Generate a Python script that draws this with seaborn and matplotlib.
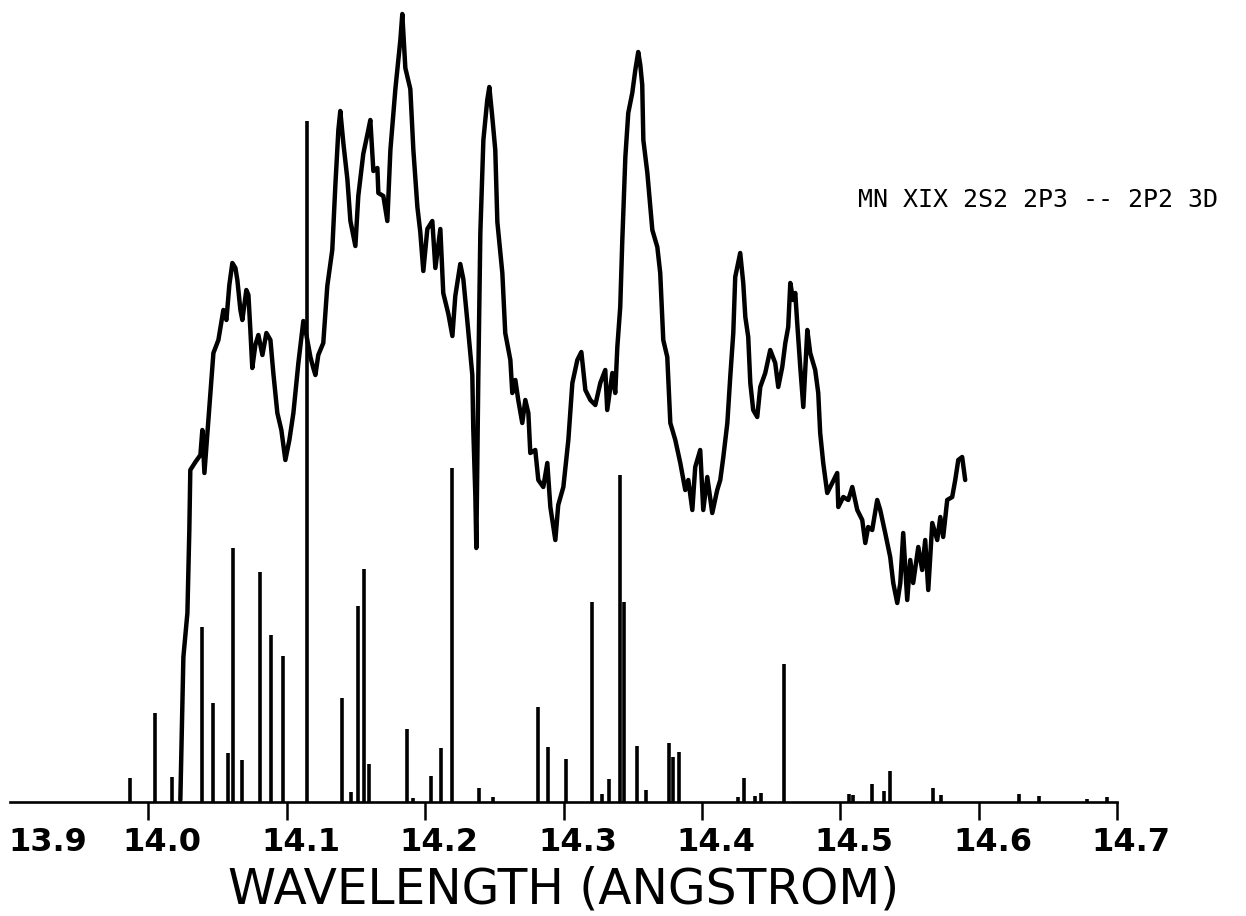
import matplotlib
matplotlib.use("Agg")
import matplotlib.pyplot as plt
import matplotlib.transforms as mtransforms
import seaborn as sns
import pandas as pd

# ---- measured spectrum (wavelength in Angstrom, intensity arbitrary units) ----
spec_wl = [14.0231, 14.0253, 14.0282, 14.0296, 14.0303, 14.0340, 14.0376, 14.0390, 14.0405, 14.0434,
           14.0470, 14.0506, 14.0542, 14.0564, 14.0585, 14.0607, 14.0629, 14.0643, 14.0665, 14.0679,
           14.0708, 14.0723, 14.0737, 14.0751, 14.0773, 14.0795, 14.0824, 14.0853, 14.0882, 14.0903,
           14.0932, 14.0961, 14.0990, 14.1019, 14.1048, 14.1084, 14.1120, 14.1142, 14.1171, 14.1192,
           14.1207, 14.1228, 14.1264, 14.1293, 14.1329, 14.1351, 14.1373, 14.1387, 14.1409, 14.1438,
           14.1460, 14.1496, 14.1517, 14.1553, 14.1582, 14.1604, 14.1626, 14.1655, 14.1662, 14.1698,
           14.1727, 14.1749, 14.1785, 14.1806, 14.1821, 14.1835, 14.1857, 14.1893, 14.1915, 14.1944,
           14.1965, 14.1987, 14.2016, 14.2052, 14.2074, 14.2110, 14.2131, 14.2168, 14.2197, 14.2218,
           14.2254, 14.2276, 14.2305, 14.2341, 14.2348, 14.2363, 14.2370, 14.2384, 14.2399, 14.2421,
           14.2449, 14.2464, 14.2486, 14.2507, 14.2522, 14.2558, 14.2579, 14.2616, 14.2630, 14.2652,
           14.2673, 14.2702, 14.2724, 14.2746, 14.2760, 14.2796, 14.2818, 14.2854, 14.2883, 14.2905,
           14.2941, 14.2962, 14.2999, 14.3035, 14.3064, 14.3100, 14.3129, 14.3158, 14.3194, 14.3230,
           14.3266, 14.3302, 14.3316, 14.3353, 14.3374, 14.3389, 14.3410, 14.3425, 14.3447, 14.3468,
           14.3497, 14.3519, 14.3540, 14.3555, 14.3569, 14.3577, 14.3606, 14.3627, 14.3642, 14.3678,
           14.3699, 14.3721, 14.3750, 14.3772, 14.3808, 14.3844, 14.3880, 14.3902, 14.3931, 14.3952,
           14.3988, 14.4010, 14.4039, 14.4075, 14.4111, 14.4133, 14.4155, 14.4184, 14.4205, 14.4227,
           14.4241, 14.4263, 14.4277, 14.4299, 14.4314, 14.4335, 14.4350, 14.4371, 14.4400, 14.4422,
           14.4458, 14.4494, 14.4530, 14.4552, 14.4581, 14.4603, 14.4624, 14.4639, 14.4660, 14.4675,
           14.4689, 14.4711, 14.4733, 14.4762, 14.4783, 14.4819, 14.4841, 14.4855, 14.4877, 14.4906,
           14.4942, 14.4978, 14.4986, 14.5022, 14.5058, 14.5087, 14.5123, 14.5159, 14.5181, 14.5202,
           14.5231, 14.5267, 14.5289, 14.5325, 14.5361, 14.5383, 14.5412, 14.5434, 14.5455, 14.5484,
           14.5506, 14.5527, 14.5564, 14.5592, 14.5614, 14.5636, 14.5665, 14.5701, 14.5723, 14.5744,
           14.5773, 14.5809, 14.5831, 14.5853, 14.5881, 14.5903]
spec_int = [2, 145, 189, 272, 332, 340, 347, 372, 329, 382,
            449, 462, 492, 482, 517, 539, 534, 522, 492, 482,
            512, 507, 472, 434, 457, 467, 447, 469, 462, 429,
            389, 372, 342, 362, 389, 439, 481, 467, 445, 434,
            427, 447, 459, 516, 552, 616, 672, 691, 659, 623,
            581, 556, 606, 648, 667, 682, 631, 634, 609, 606,
            581, 652, 713, 741, 762, 788, 734, 713, 652, 595,
            570, 531, 573, 581, 534, 573, 509, 488, 466, 506,
            538, 523, 481, 427, 373, 306, 254, 422, 569, 662,
            702, 715, 684, 652, 580, 529, 469, 442, 409, 422,
            402, 379, 402, 389, 349, 352, 322, 315, 339, 295,
            262, 297, 315, 362, 419, 442, 450, 412, 402, 397,
            419, 432, 392, 429, 409, 455, 495, 562, 645, 689,
            709, 732, 750, 737, 717, 662, 629, 595, 572, 555,
            529, 462, 445, 379, 362, 339, 312, 322, 292, 335,
            352, 292, 325, 289, 312, 322, 345, 379, 425, 469,
            525, 540, 549, 519, 485, 465, 419, 392, 385, 415,
            429, 452, 439, 415, 435, 459, 475, 519, 502, 509,
            479, 435, 395, 472, 449, 432, 409, 369, 339, 309,
            319, 329, 295, 305, 302, 315, 292, 282, 259, 275,
            272, 302, 292, 269, 245, 219, 199, 219, 269, 202,
            242, 219, 255, 232, 262, 212, 279, 262, 285, 265,
            302, 305, 322, 342, 345, 322]

# ---- calculated line positions and strengths (sticks) ----
line_wl = [13.9870, 14.0051, 14.0173, 14.0390, 14.0470, 14.0578, 14.0614, 14.0679, 14.0809, 14.0889,
           14.0975, 14.1149, 14.1402, 14.1467, 14.1517, 14.1561, 14.1597, 14.1871, 14.1915, 14.2045,
           14.2117, 14.2197, 14.2392, 14.2493, 14.2818, 14.2890, 14.3020, 14.3208, 14.3280, 14.3331,
           14.3410, 14.3439, 14.3533, 14.3598, 14.3764, 14.3793, 14.3837, 14.4263, 14.4306, 14.4386,
           14.4429, 14.4595, 14.5065, 14.5094, 14.5231, 14.5318, 14.5361, 14.5672, 14.5730, 14.6293,
           14.6438, 14.6785, 14.6929]
line_str = [24, 89, 25, 175, 99, 49, 254, 42, 230, 167,
            146, 681, 104, 10, 196, 233, 38, 73, 4, 26,
            54, 334, 14, 5, 95, 55, 43, 200, 8, 23,
            327, 200, 56, 12, 59, 45, 50, 5, 24, 6,
            9, 138, 8, 7, 18, 11, 31, 14, 7, 8,
            6, 3, 5]

tick_vals = [13.9, 14.0, 14.1, 14.2, 14.3, 14.4, 14.5, 14.6, 14.7]
tick_text = ["13.9", "14.0", "14.1", "14.2", "14.3", "14.4", "14.5", "14.6", "14.7"]
x_title = "WAVELENGTH (ANGSTROM)"
annotation = "MN XIX 2S2 2P3 -- 2P2 3D"

sns.set_style("white")
plt.rcParams["font.family"] = ["DejaVu Sans"]
plt.rcParams["text.color"] = "black"
plt.rcParams["xtick.color"] = "black"
plt.rcParams["axes.labelcolor"] = "black"

W, H = 1246, 916
fig = plt.figure(figsize=(W / 100, H / 100), dpi=100)
ax = fig.add_axes([10 / W, (H - 802) / H, 1107 / W, 800 / H])

df = pd.DataFrame({"wl": spec_wl, "I": spec_int})
sns.lineplot(data=df, x="wl", y="I", sort=False, estimator=None, color="black",
             linewidth=3.2, ax=ax, clip_on=False)
ax.vlines(line_wl, 0, line_str, colors="black", linewidth=2.6)

ax.set_xlim(13.9, 14.7)
ax.set_ylim(0, 800)
for s in ["top", "left", "right"]:
    ax.spines[s].set_visible(False)
ax.spines["bottom"].set_linewidth(1.9)
ax.spines["bottom"].set_color("black")
ax.set_yticks([])
ax.set_ylabel("")

ax.set_xticks(tick_vals)
ax.set_xticklabels(tick_text, fontsize=23, fontweight="bold", color="black")
ax.tick_params(axis="x", direction="out", length=13, width=1.8, color="black",
               labelcolor="black", pad=5, bottom=True)
ticks = ax.xaxis.get_major_ticks()
ticks[0].tick1line.set_visible(False)
for i, t in enumerate(ticks):
    dx = 27 if i == 0 else 10
    lab = t.label1
    lab.set_transform(lab.get_transform() +
                      mtransforms.ScaledTranslation(dx / 72, 0, fig.dpi_scale_trans))

ax.set_xlabel(x_title, fontsize=35, color="black")
ax.xaxis.set_label_coords(0.5, -0.080)

fig.text(1038 / W, 1 - 200 / H, annotation, fontsize=18, family="DejaVu Sans Mono",
         ha="center", va="center", color="black")

fig.savefig("out.png", dpi=100, facecolor="white")
